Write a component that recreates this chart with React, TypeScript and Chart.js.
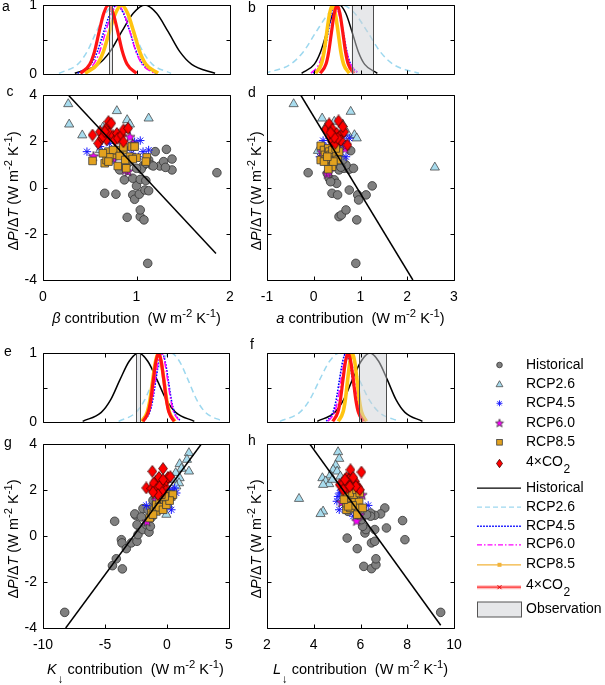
import React, { useEffect, useRef } from 'react';
import { Chart, registerables } from 'chart.js';

Chart.register(...registerables);

const FONT = '"Liberation Sans", Arial, Helvetica, sans-serif';

type Pt = [number, number];

// ---------- tick definitions ----------
const cXTicks = [0, 1, 2];
const dXTicks = [-1, 0, 1, 2, 3];
const gXTicks = [-10, -5, 0, 5];
const hXTicks = [2, 4, 6, 8, 10];
const dpTicks = [-4, -2, 0, 2, 4];
const pdfYTicks = [0, 0.5, 1];
const pdfYHidden = [0.5];

// ---------- PDF panels (normalised curves) ----------
const pdfLevels = [0.01, 0.14, 0.32, 0.61, 0.88, 1, 0.88, 0.61, 0.32, 0.14, 0.01];

const aHistX = [0.34, 0.59, 0.715, 0.84, 0.965, 1.09, 1.215, 1.34, 1.465, 1.59, 1.84];
const aR26X = [0.17, 0.37, 0.47, 0.57, 0.67, 0.77, 0.87, 0.97, 1.07, 1.17, 1.37];
const aR45X = [0.37, 0.51, 0.58, 0.65, 0.72, 0.79, 0.86, 0.93, 1.0, 1.07, 1.21];
const aR60X = [0.41, 0.54, 0.605, 0.67, 0.735, 0.8, 0.865, 0.93, 0.995, 1.06, 1.19];
const aR85X = [0.45, 0.58, 0.645, 0.71, 0.775, 0.84, 0.905, 0.97, 1.035, 1.1, 1.23];
const aCO2X = [0.4, 0.5, 0.55, 0.6, 0.65, 0.7, 0.75, 0.8, 0.85, 0.9, 1.0];
const aObs: Pt = [0.71, 0.74];

const bHistX = [-0.26, 0.01, 0.145, 0.28, 0.415, 0.55, 0.685, 0.82, 0.955, 1.09, 1.36];
const bR26X = [-1.05, -0.5, -0.225, 0.05, 0.325, 0.6, 0.875, 1.15, 1.425, 1.7, 2.25];
const bR45X = [-0.01, 0.15, 0.23, 0.31, 0.39, 0.47, 0.55, 0.63, 0.71, 0.79, 0.95];
const bR60X = [-0.06, 0.11, 0.195, 0.28, 0.365, 0.45, 0.535, 0.62, 0.705, 0.79, 0.96];
const bR85X = [0.04, 0.16, 0.22, 0.28, 0.34, 0.4, 0.46, 0.52, 0.58, 0.64, 0.76];
const bCO2X = [0.14, 0.26, 0.32, 0.38, 0.44, 0.5, 0.56, 0.62, 0.68, 0.74, 0.86];
const bObs: Pt = [0.81, 1.27];

const eHistX = [-6.8, -5.3, -4.55, -3.8, -3.05, -2.3, -1.55, -0.8, -0.05, 0.7, 2.2];
const eR26X = [-3.9, -2.5, -1.8, -1.1, -0.4, 0.3, 1.0, 1.7, 2.4, 3.1, 4.5];
const eR45X = [-1.9, -1.4, -1.15, -0.9, -0.65, -0.4, -0.15, 0.1, 0.35, 0.6, 1.1];
const eR60X = [-1.95, -1.45, -1.2, -0.95, -0.7, -0.45, -0.2, 0.05, 0.3, 0.55, 1.05];
const eR85X = [-2.05, -1.6, -1.375, -1.15, -0.925, -0.7, -0.475, -0.25, -0.025, 0.2, 0.65];
const eCO2X = [-1.94, -1.52, -1.31, -1.1, -0.89, -0.68, -0.47, -0.26, -0.05, 0.16, 0.58];
const eObs: Pt = [-2.47, -2.15];

const fHistX = [4.15, 4.9, 5.275, 5.65, 6.025, 6.4, 6.775, 7.15, 7.525, 7.9, 8.65];
const fR26X = [2.55, 3.4, 3.825, 4.25, 4.675, 5.1, 5.525, 5.95, 6.375, 6.8, 7.65];
const fR45X = [4.54, 4.82, 4.96, 5.1, 5.24, 5.38, 5.52, 5.66, 5.8, 5.94, 6.22];
const fR60X = [4.61, 4.89, 5.03, 5.17, 5.31, 5.45, 5.59, 5.73, 5.87, 6.01, 6.29];
const fR85X = [5.05, 5.25, 5.35, 5.45, 5.55, 5.65, 5.75, 5.85, 5.95, 6.05, 6.25];
const fCO2X = [4.81, 5.03, 5.14, 5.25, 5.36, 5.47, 5.58, 5.69, 5.8, 5.91, 6.13];
const fObs: Pt = [5.94, 7.09];

// ---------- scatter panel c (beta contribution) ----------
const cHist: Pt[] = [[1.86,0.64],[1.12,-3.28],[0.90,-1.29],[1.04,-1.26],[1.08,-1.40],[1.04,-0.97],[0.66,-0.25],[0.78,-0.29],[0.96,-0.32],[0.98,-0.51],[1.03,-0.29],[1.09,-0.11],[1.13,-0.14],[1.00,0.07],[0.87,0.33],[0.96,0.40],[1.04,0.35],[1.10,0.30],[1.07,0.93],[1.13,1.19],[1.16,0.97],[1.20,1.55],[1.25,0.93],[1.29,1.12],[1.32,1.65],[1.38,1.23],[1.38,0.76],[1.31,0.87],[1.05,0.79],[1.00,0.83],[0.89,0.97],[0.82,0.76],[0.93,1.12],[1.10,1.05],[1.18,0.93]];
const cR26: Pt[] = [[0.27,3.61],[0.28,2.73],[0.42,2.26],[0.79,3.31],[0.90,2.92],[0.93,2.73],[1.13,2.99],[0.61,1.62],[0.64,2.60],[0.79,2.20],[0.88,2.49],[0.68,2.45]];
const cR45: Pt[] = [[0.47,1.55],[1.04,2.03],[0.98,1.98],[1.13,1.62],[1.07,1.55],[0.71,1.91],[0.79,1.62],[0.89,1.69],[0.61,1.77],[0.95,1.48],[0.75,1.19],[0.82,2.13],[1.02,1.33]];
const cR60: Pt[] = [[0.54,1.36],[0.91,0.71],[0.88,0.76],[0.75,1.26],[0.77,1.69],[0.93,2.20],[0.82,1.55],[0.96,1.91]];
const cR85: Pt[] = [[0.53,1.15],[0.66,1.05],[0.68,1.19],[0.70,1.55],[0.77,1.41],[0.80,0.93],[0.89,0.83],[0.80,1.62],[0.75,1.62],[0.86,1.62],[0.86,1.74],[0.93,1.33],[0.95,1.77],[0.98,1.77],[1.00,1.29],[1.11,1.30],[1.10,1.12],[0.82,1.36],[0.71,1.30],[0.64,1.48],[0.88,1.19],[0.70,1.12],[0.96,1.23]];
const cCO2: Pt[] = [[0.53,2.27],[0.59,1.91],[0.61,2.41],[0.63,2.13],[0.68,2.58],[0.68,2.06],[0.70,2.85],[0.73,2.78],[0.71,2.34],[0.75,2.23],[0.77,2.06],[0.79,2.34],[0.80,2.13],[0.84,2.27],[0.86,1.98],[0.86,2.49],[0.91,2.56],[0.64,2.20],[0.66,2.41]];
const cFit: Pt[] = [[0.27,4.0],[1.85,-2.85]];

// ---------- scatter panel d (a contribution) ----------
const dHist: Pt[] = [[0.90,-3.28],[0.54,-1.26],[0.59,-1.19],[0.69,-0.97],[0.92,-1.40],[0.39,-0.25],[0.51,-0.32],[0.76,-0.11],[0.94,-0.32],[0.96,-0.54],[1.12,-0.32],[1.25,0.07],[-0.12,0.64],[0.29,0.60],[0.33,0.40],[0.44,0.33],[0.49,0.18],[0.36,0.25],[0.54,0.76],[0.65,0.83],[0.76,0.79],[0.85,0.83],[0.69,0.97],[0.79,1.59],[0.62,1.19],[0.51,1.05],[0.58,0.88]];
const dR26: Pt[] = [[-0.43,3.61],[0.79,3.28],[0.18,2.99],[0.62,2.73],[0.87,2.27],[0.92,2.13],[2.59,0.87],[0.09,1.59],[0.44,2.85],[0.54,1.12],[0.26,2.63],[0.72,2.34]];
const dR45: Pt[] = [[0.20,2.03],[0.13,1.33],[0.65,2.27],[0.69,1.91],[0.58,1.84],[0.26,1.77],[0.44,1.84],[0.69,1.33],[0.36,1.26],[0.76,2.13],[0.51,1.55]];
const dR60: Pt[] = [[0.29,0.60],[0.17,1.55],[0.67,1.69],[0.69,1.84],[0.33,0.69],[0.47,1.77]];
const dR85: Pt[] = [[0.15,1.80],[0.15,1.19],[0.22,1.62],[0.24,1.41],[0.31,1.69],[0.33,1.55],[0.36,1.41],[0.40,1.62],[0.44,1.30],[0.33,1.19],[0.26,1.22],[0.49,1.41],[0.39,0.90],[0.31,0.79],[0.54,1.55],[0.51,1.19],[0.22,1.12],[0.42,1.12],[0.29,1.33],[0.47,1.69]];
const dCO2: Pt[] = [[0.26,2.52],[0.33,2.75],[0.53,2.88],[0.40,2.52],[0.49,2.34],[0.35,2.20],[0.39,1.98],[0.46,1.91],[0.56,2.23],[0.58,2.03],[0.65,2.41],[0.72,1.84],[0.51,2.13],[0.44,2.17],[0.62,2.63],[0.36,2.37]];
const dFit: Pt[] = [[-0.28,4.0],[2.12,-4.0]];

// ---------- scatter panel g (K down contribution) ----------
const gHist: Pt[] = [[-8.25,-3.32],[-4.22,0.64],[-4.40,-1.29],[-4.09,-0.99],[-3.60,-1.43],[-3.68,-0.16],[-3.63,-0.30],[-3.28,-0.55],[-2.88,-0.30],[-2.53,0.90],[-2.42,-0.23],[-2.34,0.06],[-2.15,0.35],[-1.94,0.28],[-1.67,0.49],[-1.45,0.17],[-1.34,0.42],[-1.26,0.81],[-1.94,1.19],[-1.53,1.14],[-1.13,1.29],[-1.13,1.55],[-2.60,0.96],[-2.42,0.49],[-2.07,0.83],[-0.86,1.43]];
const gR26: Pt[] = [[1.77,3.61],[1.02,3.13],[1.61,3.32],[1.16,2.93],[1.77,2.81],[0.70,2.74],[1.02,2.52],[0.97,2.30],[-0.05,0.93],[0.08,1.36],[0.48,2.45],[0.75,2.16]];
const gR45: Pt[] = [[-1.67,1.33],[0.35,1.14],[0.62,2.09],[0.48,1.94],[0.08,1.72],[0.21,2.01],[-0.19,1.87],[0.75,1.87],[-0.46,1.58]];
const gR60: Pt[] = [[-1.61,0.64],[-0.05,1.72],[0.21,1.80],[-0.86,1.58]];
const gR85: Pt[] = [[-1.40,0.78],[-1.26,1.00],[-0.99,1.14],[-0.86,1.36],[-0.59,1.51],[-0.46,1.29],[-0.32,1.65],[-0.19,1.43],[-0.05,1.58],[0.08,1.80],[0.35,1.72],[0.48,1.80],[-0.86,1.07],[-0.65,1.25],[-0.32,1.14],[-0.05,1.36],[0.21,1.54],[-0.19,1.72],[-1.13,0.93],[-0.46,1.80]];
const gCO2: Pt[] = [[-1.18,2.81],[-0.32,2.93],[-1.67,2.09],[-1.26,2.06],[-0.91,2.38],[-0.65,2.55],[-0.46,2.23],[-0.19,2.16],[-0.05,2.41],[0.08,2.55],[0.27,2.58],[-1.08,2.30],[-0.86,2.01],[-0.59,2.16],[-0.38,1.91],[-0.73,1.80],[-1.13,1.91],[-0.32,2.45]];
const gFit: Pt[] = [[-8.17,-4.0],[2.77,4.0]];

// ---------- scatter panel h (L down contribution) ----------
const hHist: Pt[] = [[9.43,-3.32],[6.14,-1.32],[6.47,-1.42],[6.66,-1.25],[6.66,-0.99],[5.86,-0.55],[5.43,-0.09],[6.47,-0.30],[6.61,-0.23],[6.19,0.13],[6.23,0.28],[6.61,0.28],[7.11,0.35],[7.90,-0.16],[7.80,0.67],[7.04,1.22],[6.86,0.96],[6.61,0.90],[6.43,1.00],[6.43,0.86],[6.09,0.42],[6.04,0.71],[5.47,1.07],[6.26,0.93]];
const hR26: Pt[] = [[3.37,1.62],[4.40,1.07],[4.29,0.96],[5.04,3.65],[5.09,3.36],[4.94,3.07],[4.83,2.88],[5.00,2.81],[4.71,2.64],[4.37,2.52],[4.51,2.38],[4.66,2.26],[4.40,2.23],[4.80,2.45],[5.14,2.59],[5.54,2.59]];
const hR45: Pt[] = [[5.09,1.14],[5.11,1.87],[5.04,1.72],[5.19,2.01],[4.99,1.51],[6.33,1.33],[5.69,0.86],[5.40,1.65],[5.26,1.43]];
const hR60: Pt[] = [[5.83,0.67],[6.07,1.80],[5.19,1.48],[5.97,0.93]];
const hR85: Pt[] = [[5.40,1.14],[5.57,1.22],[5.40,1.43],[5.47,1.65],[5.61,1.54],[5.80,1.65],[5.76,1.48],[5.94,1.48],[5.90,1.22],[5.71,1.80],[5.54,1.87],[5.33,1.80],[5.83,2.01],[5.97,1.87],[5.86,0.93],[5.66,1.33],[5.47,1.29],[6.09,1.22],[5.29,1.58]];
const hCO2: Pt[] = [[5.57,2.88],[6.04,2.78],[5.11,2.23],[5.26,2.30],[5.40,2.54],[5.51,2.45],[5.61,2.23],[5.76,2.38],[5.90,2.12],[5.97,2.01],[5.43,2.09],[5.26,2.01],[5.69,2.54],[5.80,2.16],[5.33,2.45],[5.54,2.16]];
const hFit: Pt[] = [[3.83,4.0],[9.43,-3.88]];

// ---------- legend labels ----------
const legendNames = ['Historical', 'RCP2.6', 'RCP4.5', 'RCP6.0', 'RCP8.5'];

// ---------- styles ----------
const COL = {
  hist: '#000000',
  r26: '#9DD8EF',
  r45: '#0000FF',
  r60: '#FF00FF',
  r85: '#FFC410',
  co2: '#FF1414',
};

const xy = (pts: Pt[]) => pts.map(([x, y]) => ({ x, y }));
const curve = (xs: number[]) => xs.map((x, i) => ({ x, y: pdfLevels[i] }));

function makeStar(size: number) {
  const c = document.createElement('canvas');
  c.width = size;
  c.height = size;
  const ctx = c.getContext('2d')!;
  const cx = size / 2, cy = size / 2 + 0.6, R = size / 2 - 0.7, r = R * 0.42;
  ctx.beginPath();
  for (let i = 0; i < 10; i++) {
    const ang = -Math.PI / 2 + (i * Math.PI) / 5;
    const rad = i % 2 === 0 ? R : r;
    ctx.lineTo(cx + rad * Math.cos(ang), cy + rad * Math.sin(ang));
  }
  ctx.closePath();
  ctx.fillStyle = '#FF00FF';
  ctx.fill();
  ctx.lineWidth = 0.8;
  ctx.strokeStyle = '#333';
  ctx.stroke();
  return c;
}

function makeDiamond(w: number, h: number) {
  const c = document.createElement('canvas');
  c.width = w;
  c.height = h;
  const ctx = c.getContext('2d')!;
  ctx.beginPath();
  ctx.moveTo(w / 2, 0.6);
  ctx.lineTo(w - 0.6, h / 2);
  ctx.lineTo(w / 2, h - 0.6);
  ctx.lineTo(0.6, h / 2);
  ctx.closePath();
  ctx.fillStyle = '#FF0000';
  ctx.fill();
  ctx.lineWidth = 0.8;
  ctx.strokeStyle = '#3A0000';
  ctx.stroke();
  return c;
}

function pdfDatasets(c: { hist: number[]; r26: number[]; r45: number[]; r60: number[]; r85: number[]; co2: number[] }) {
  return [
    { data: curve(c.co2), borderColor: COL.co2, borderWidth: 3.2, order: 1 },
    { data: curve(c.r85), borderColor: COL.r85, borderWidth: 3.6, order: 2 },
    { data: curve(c.r60), borderColor: COL.r60, borderWidth: 1.5, borderDash: [7, 2.5, 1.5, 2.5], order: 3 },
    { data: curve(c.r45), borderColor: COL.r45, borderWidth: 1.6, borderDash: [1.6, 1.4], order: 4 },
    { data: curve(c.r26), borderColor: COL.r26, borderWidth: 1.5, borderDash: [6, 4], order: 5 },
    { data: curve(c.hist), borderColor: COL.hist, borderWidth: 1.5, order: 6 },
  ].map((d) => ({ ...d, showLine: true, pointRadius: 0, cubicInterpolationMode: 'monotone', fill: false }));
}

function scatterDatasets(
  s: { hist: Pt[]; r26: Pt[]; r45: Pt[]; r60: Pt[]; r85: Pt[]; co2: Pt[]; fit: Pt[] },
  star: HTMLCanvasElement,
  diamond: HTMLCanvasElement
) {
  return [
    { data: xy(s.fit), showLine: true, pointRadius: 0, borderColor: '#000', borderWidth: 1.5, order: 0 },
    { data: xy(s.co2), pointStyle: diamond, pointRadius: 5, order: 1 },
    { data: xy(s.r85), pointStyle: 'rect', pointRadius: 5.4, backgroundColor: '#E3A21F', borderColor: '#3A3A3A', borderWidth: 0.8, order: 2 },
    { data: xy(s.r60), pointStyle: star, pointRadius: 5, order: 3 },
    { data: xy(s.r45), pointStyle: 'star', pointRadius: 4.2, borderColor: '#1414FF', backgroundColor: '#1414FF', borderWidth: 1, order: 4 },
    { data: xy(s.r26), pointStyle: 'triangle', pointRadius: 5.3, backgroundColor: '#A8DCEE', borderColor: '#4A4A4A', borderWidth: 0.8, order: 5 },
    { data: xy(s.hist), pointStyle: 'circle', pointRadius: 4.3, backgroundColor: '#808080', borderColor: '#333', borderWidth: 0.8, order: 6 },
  ];
}

const framePlugin = {
  id: 'frame',
  afterDraw(chart: any) {
    const { ctx, chartArea: a, scales } = chart;
    const x = scales.x, y = scales.y;
    const L = Math.round(a.left) + 0.5, R = Math.round(a.right) + 0.5;
    const T = Math.round(a.top) + 0.5, B = Math.round(a.bottom) + 0.5;
    ctx.save();
    ctx.strokeStyle = '#000';
    ctx.lineWidth = 1;
    ctx.setLineDash([]);
    ctx.beginPath();
    ctx.rect(L, T, R - L, B - T);
    const tl = 4;
    for (const t of x.ticks) {
      const px = Math.round(x.getPixelForValue(t.value)) + 0.5;
      ctx.moveTo(px, B);
      ctx.lineTo(px, B - tl);
      ctx.moveTo(px, T);
      ctx.lineTo(px, T + tl);
    }
    for (const t of y.ticks) {
      const py = Math.round(y.getPixelForValue(t.value)) + 0.5;
      ctx.moveTo(L, py);
      ctx.lineTo(L + tl, py);
      ctx.moveTo(R, py);
      ctx.lineTo(R - tl, py);
    }
    ctx.stroke();
    ctx.restore();
  },
};

function obsPlugin(range: Pt | null) {
  return {
    id: 'obsBox',
    afterDatasetsDraw(chart: any) {
      if (!range) return;
      const { ctx, chartArea: a, scales } = chart;
      const x1 = scales.x.getPixelForValue(range[0]);
      const x2 = scales.x.getPixelForValue(range[1]);
      ctx.save();
      ctx.fillStyle = 'rgba(208,210,214,0.5)';
      ctx.fillRect(x1, a.top, x2 - x1, a.bottom - a.top);
      ctx.strokeStyle = '#4D4D4D';
      ctx.lineWidth = 1;
      ctx.beginPath();
      ctx.moveTo(Math.round(x1) + 0.5, a.top);
      ctx.lineTo(Math.round(x1) + 0.5, a.bottom);
      ctx.moveTo(Math.round(x2) + 0.5, a.top);
      ctx.lineTo(Math.round(x2) + 0.5, a.bottom);
      ctx.stroke();
      ctx.restore();
    },
  };
}

type PanelSpec = {
  canvas: [number, number, number, number];
  area: [number, number, number, number];
  x: [number, number];
  xTicks: number[];
  y: [number, number];
  yTicks: number[];
  yHidden: number[];
  xLabels: boolean;
  yLabels: boolean;
  obs: Pt | null;
  build: (star: HTMLCanvasElement, diamond: HTMLCanvasElement) => any[];
};

const PANELS: PanelSpec[] = [
  { canvas: [0, 0, 240, 84], area: [43, 5, 230, 74], x: [0, 2], xTicks: cXTicks, y: [0, 1], yTicks: pdfYTicks, yHidden: pdfYHidden, xLabels: false, yLabels: true, obs: aObs,
    build: () => pdfDatasets({ hist: aHistX, r26: aR26X, r45: aR45X, r60: aR60X, r85: aR85X, co2: aCO2X }) },
  { canvas: [245, 0, 215, 84], area: [267, 5, 454, 74], x: [-1, 3], xTicks: dXTicks, y: [0, 1], yTicks: pdfYTicks, yHidden: pdfYHidden, xLabels: false, yLabels: false, obs: bObs,
    build: () => pdfDatasets({ hist: bHistX, r26: bR26X, r45: bR45X, r60: bR60X, r85: bR85X, co2: bCO2X }) },
  { canvas: [0, 85, 240, 225], area: [43, 95, 230, 280], x: [0, 2], xTicks: cXTicks, y: [-4, 4], yTicks: dpTicks, yHidden: [], xLabels: true, yLabels: true, obs: null,
    build: (s, d) => scatterDatasets({ hist: cHist, r26: cR26, r45: cR45, r60: cR60, r85: cR85, co2: cCO2, fit: cFit }, s, d) },
  { canvas: [245, 85, 222, 225], area: [267, 95, 454, 280], x: [-1, 3], xTicks: dXTicks, y: [-4, 4], yTicks: dpTicks, yHidden: [], xLabels: true, yLabels: false, obs: null,
    build: (s, d) => scatterDatasets({ hist: dHist, r26: dR26, r45: dR45, r60: dR60, r85: dR85, co2: dCO2, fit: dFit }, s, d) },
  { canvas: [0, 343, 240, 89], area: [43, 353, 229, 422], x: [-10, 5], xTicks: gXTicks, y: [0, 1], yTicks: pdfYTicks, yHidden: pdfYHidden, xLabels: false, yLabels: true, obs: eObs,
    build: () => pdfDatasets({ hist: eHistX, r26: eR26X, r45: eR45X, r60: eR60X, r85: eR85X, co2: eCO2X }) },
  { canvas: [245, 343, 215, 89], area: [267, 353, 454, 422], x: [2, 10], xTicks: hXTicks, y: [0, 1], yTicks: pdfYTicks, yHidden: pdfYHidden, xLabels: false, yLabels: false, obs: fObs,
    build: () => pdfDatasets({ hist: fHistX, r26: fR26X, r45: fR45X, r60: fR60X, r85: fR85X, co2: fCO2X }) },
  { canvas: [0, 434, 240, 224], area: [43, 444, 229, 628], x: [-10, 5], xTicks: gXTicks, y: [-4, 4], yTicks: dpTicks, yHidden: [], xLabels: true, yLabels: true, obs: null,
    build: (s, d) => scatterDatasets({ hist: gHist, r26: gR26, r45: gR45, r60: gR60, r85: gR85, co2: gCO2, fit: gFit }, s, d) },
  { canvas: [245, 434, 222, 224], area: [267, 444, 454, 628], x: [2, 10], xTicks: hXTicks, y: [-4, 4], yTicks: dpTicks, yHidden: [], xLabels: true, yLabels: false, obs: null,
    build: (s, d) => scatterDatasets({ hist: hHist, r26: hR26, r45: hR45, r60: hR60, r85: hR85, co2: hCO2, fit: hFit }, s, d) },
];

function makePanel(canvas: HTMLCanvasElement, p: PanelSpec, star: HTMLCanvasElement, diamond: HTMLCanvasElement) {
  const [cl, ct, cw, ch] = p.canvas;
  const [L, T, R, B] = p.area;
  const fix = (w: number | null, h: number | null) => (s: any) => {
    if (w !== null) s.width = w;
    if (h !== null) s.height = h;
    s.paddingLeft = 0;
    s.paddingRight = 0;
    s.paddingTop = 0;
    s.paddingBottom = 0;
  };
  const tickFont = { family: FONT, size: 14 };
  return new Chart(canvas, {
    type: 'scatter',
    data: { datasets: p.build(star, diamond) as any },
    options: {
      animation: false,
      responsive: false,
      maintainAspectRatio: false,
      events: [],
      layout: { padding: { left: 0, top: T - ct, right: cl + cw - R, bottom: 0 } },
      plugins: { legend: { display: false }, tooltip: { enabled: false } },
      scales: {
        x: {
          type: 'linear',
          min: p.x[0],
          max: p.x[1],
          afterBuildTicks: (s: any) => {
            s.ticks = p.xTicks.map((v) => ({ value: v }));
          },
          afterFit: fix(null, ct + ch - B),
          grid: { display: false, drawTicks: false },
          border: { display: false },
          ticks: { display: p.xLabels, padding: 9, autoSkip: false, maxRotation: 0, color: '#000', font: tickFont },
        },
        y: {
          type: 'linear',
          min: p.y[0],
          max: p.y[1],
          afterBuildTicks: (s: any) => {
            s.ticks = p.yTicks.map((v) => ({ value: v }));
          },
          afterFit: fix(L - cl, null),
          grid: { display: false, drawTicks: false },
          border: { display: false },
          ticks: {
            display: p.yLabels,
            padding: 6,
            autoSkip: false,
            color: '#000',
            font: tickFont,
            callback: (v: any) => (p.yHidden.includes(Number(v)) ? '' : String(v)),
          },
        },
      },
    } as any,
    plugins: [framePlugin, obsPlugin(p.obs)] as any,
  });
}

function drawLegend(canvas: HTMLCanvasElement, star: HTMLCanvasElement) {
  const ctx = canvas.getContext('2d')!;
  const OX = 455, OY = 350;
  const mx = 499.5 - OX;
  const tx = 526 - OX;
  const lx1 = 477 - OX, lx2 = 521 - OX;
  const Y = (v: number) => v - OY;
  ctx.clearRect(0, 0, canvas.width, canvas.height);
  ctx.font = `14px ${FONT}`;
  ctx.textBaseline = 'middle';
  ctx.textAlign = 'left';
  ctx.fillStyle = '#000';

  const markerRows = [365, 384.3, 403.3, 422.7, 442.3, 463.5];
  // circle
  let yy = Y(markerRows[0]);
  ctx.beginPath();
  ctx.arc(mx, yy, 2.8, 0, Math.PI * 2);
  ctx.fillStyle = '#808080';
  ctx.fill();
  ctx.strokeStyle = '#333';
  ctx.lineWidth = 0.8;
  ctx.stroke();
  // triangle
  yy = Y(markerRows[1]);
  ctx.beginPath();
  ctx.moveTo(mx, yy - 3.6);
  ctx.lineTo(mx + 3.4, yy + 2.4);
  ctx.lineTo(mx - 3.4, yy + 2.4);
  ctx.closePath();
  ctx.fillStyle = '#A8DCEE';
  ctx.fill();
  ctx.strokeStyle = '#4A4A4A';
  ctx.stroke();
  // asterisk
  yy = Y(markerRows[2]);
  ctx.beginPath();
  ctx.strokeStyle = '#1414FF';
  ctx.lineWidth = 0.9;
  for (let k = 0; k < 4; k++) {
    const ang = (k * Math.PI) / 4;
    ctx.moveTo(mx - 3 * Math.cos(ang), yy - 3 * Math.sin(ang));
    ctx.lineTo(mx + 3 * Math.cos(ang), yy + 3 * Math.sin(ang));
  }
  ctx.stroke();
  // star
  yy = Y(markerRows[3]);
  ctx.drawImage(star, mx - 5, yy - 5, 10, 10);
  // square
  yy = Y(markerRows[4]);
  ctx.fillStyle = '#E3A21F';
  ctx.fillRect(mx - 2.8, yy - 2.8, 5.6, 5.6);
  ctx.strokeStyle = '#3A3A3A';
  ctx.lineWidth = 0.8;
  ctx.strokeRect(mx - 2.8, yy - 2.8, 5.6, 5.6);
  // diamond
  yy = Y(markerRows[5]);
  ctx.beginPath();
  ctx.moveTo(mx, yy - 4.2);
  ctx.lineTo(mx + 3, yy);
  ctx.lineTo(mx, yy + 4.2);
  ctx.lineTo(mx - 3, yy);
  ctx.closePath();
  ctx.fillStyle = '#FF0000';
  ctx.fill();
  ctx.strokeStyle = '#3A0000';
  ctx.stroke();

  const drawCO2 = (y: number) => {
    ctx.fillStyle = '#000';
    ctx.font = `14px ${FONT}`;
    const w = ctx.measureText('4×CO').width;
    ctx.fillText('4×CO', tx, y);
    ctx.font = `12px ${FONT}`;
    ctx.fillText('2', tx + w + 0.5, y + 8);
    ctx.font = `14px ${FONT}`;
  };

  ctx.fillStyle = '#000';
  legendNames.forEach((n, i) => ctx.fillText(n, tx, Y(markerRows[i])));
  drawCO2(Y(461.7));

  // line legend
  const lineRows = [487.7, 506.7, 525.7, 544.3, 564.3, 586.7];
  const seg = (y: number, color: string, w: number, dash: number[]) => {
    ctx.save();
    ctx.strokeStyle = color;
    ctx.lineWidth = w;
    ctx.setLineDash(dash);
    ctx.beginPath();
    ctx.moveTo(lx1, y);
    ctx.lineTo(lx2, y);
    ctx.stroke();
    ctx.restore();
  };
  seg(Y(lineRows[0]) + 0.5, '#000', 1.2, []);
  seg(Y(lineRows[1]) + 0.5, COL.r26, 1.2, [5, 3]);
  seg(Y(lineRows[2]) + 0.5, '#2A2AFF', 1.6, [2, 1]);
  seg(Y(lineRows[3]) + 0.5, COL.r60, 1.2, [5, 2, 1.5, 2]);
  seg(Y(lineRows[4]) + 0.5, '#F2B33A', 1.2, []);
  ctx.fillStyle = '#F2B33A';
  ctx.fillRect(mx - 2, Y(lineRows[4]) - 1.5, 4, 4);
  seg(Y(lineRows[5]) + 0.5, 'rgba(255,60,60,0.35)', 4, []);
  seg(Y(lineRows[5]) + 0.5, '#FF3030', 1.2, []);
  ctx.save();
  ctx.strokeStyle = '#E00000';
  ctx.lineWidth = 1;
  ctx.beginPath();
  const cy = Y(lineRows[5]) + 0.5;
  ctx.moveTo(mx - 2, cy - 2);
  ctx.lineTo(mx + 2, cy + 2);
  ctx.moveTo(mx + 2, cy - 2);
  ctx.lineTo(mx - 2, cy + 2);
  ctx.stroke();
  ctx.restore();

  ctx.fillStyle = '#000';
  const lineTextRows = [487.7, 506.7, 525.7, 544.3, 564.3];
  legendNames.forEach((n, i) => ctx.fillText(n, tx, Y(lineTextRows[i])));
  drawCO2(Y(585));

  // observation patch
  ctx.fillStyle = '#E6E7E9';
  ctx.fillRect(lx1 + 0.5, Y(601.5) + 0.5, lx2 - lx1, 15);
  ctx.strokeStyle = '#555';
  ctx.lineWidth = 1;
  ctx.strokeRect(lx1 + 0.5, Y(601.5) + 0.5, lx2 - lx1, 15);
  ctx.fillStyle = '#000';
  ctx.fillText('Observation', tx, Y(609.3));
}

const Sup = ({ children }: { children: React.ReactNode }) => (
  <span style={{ fontSize: '0.78em', position: 'relative', top: '-0.5em' }}>{children}</span>
);
const Down = () => (
  <span style={{ fontSize: '0.8em', position: 'relative', top: '0.75em', marginLeft: 1 }}>↓</span>
);
const Unit = () => (
  <>
    (W m<Sup>-2</Sup> K<Sup>-1</Sup>)
  </>
);

const baseText: React.CSSProperties = {
  position: 'absolute',
  whiteSpace: 'pre',
  fontFamily: FONT,
  fontSize: 14.5,
  lineHeight: 1,
  color: '#000',
};

const XTitle = ({ x, y, children }: { x: number; y: number; children: React.ReactNode }) => (
  <div style={{ ...baseText, left: x, top: y, transform: 'translate(-50%,-50%)' }}>{children}</div>
);
const YTitle = ({ x, y }: { x: number; y: number }) => (
  <div style={{ ...baseText, left: x, top: y, transform: 'translate(-50%,-50%) rotate(-90deg)' }}>
    Δ<i>P</i>/Δ<i>T</i> <Unit />
  </div>
);
const Letter = ({ x, y, t }: { x: number; y: number; t: string }) => (
  <div style={{ ...baseText, fontSize: 14, left: x, top: y, transform: 'translate(-50%,-50%)' }}>{t}</div>
);

export default function App() {
  const refs = useRef<(HTMLCanvasElement | null)[]>([]);
  const legendRef = useRef<HTMLCanvasElement | null>(null);

  useEffect(() => {
    Chart.defaults.font.family = FONT;
    const star = makeStar(12);
    const diamond = makeDiamond(10, 13);
    const charts = PANELS.map((p, i) => makePanel(refs.current[i]!, p, star, diamond));
    if (legendRef.current) drawLegend(legendRef.current, makeStar(10));
    return () => charts.forEach((c) => c.destroy());
  }, []);

  return (
    <div style={{ position: 'absolute', left: 0, top: 0, width: 605, height: 685, background: '#fff', overflow: 'hidden' }}>
      {PANELS.map((p, i) => (
        <canvas
          key={i}
          ref={(el) => {
            refs.current[i] = el;
          }}
          width={p.canvas[2]}
          height={p.canvas[3]}
          style={{ position: 'absolute', left: p.canvas[0], top: p.canvas[1], width: p.canvas[2], height: p.canvas[3] }}
        />
      ))}
      <canvas ref={legendRef} width={150} height={275} style={{ position: 'absolute', left: 455, top: 350, width: 150, height: 275 }} />

      <Letter x={6} y={6} t="a" />
      <Letter x={252} y={7} t="b" />
      <Letter x={10} y={91} t="c" />
      <Letter x={252} y={92} t="d" />
      <Letter x={8} y={351} t="e" />
      <Letter x={252} y={344} t="f" />
      <Letter x={8} y={442} t="g" />
      <Letter x={252} y={440} t="h" />

      <YTitle x={13} y={191} />
      <YTitle x={256} y={191} />
      <YTitle x={13} y={539} />
      <YTitle x={256} y={539} />

      <XTitle x={136.5} y={318}>
        <i>β</i> contribution  <Unit />
      </XTitle>
      <XTitle x={360.5} y={318}>
        <i>a</i> contribution  <Unit />
      </XTitle>
      <XTitle x={135.5} y={669}>
        <i>K</i>
        <Down /> contribution  <Unit />
      </XTitle>
      <XTitle x={360.5} y={669}>
        <i>L</i>
        <Down /> contribution  <Unit />
      </XTitle>
    </div>
  );
}
